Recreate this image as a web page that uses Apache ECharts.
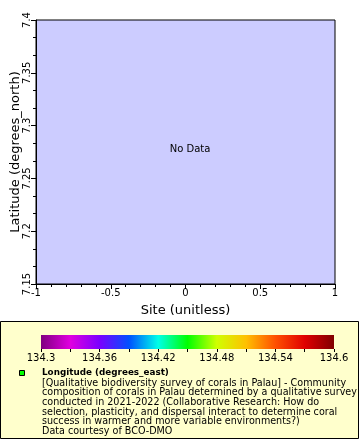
<!DOCTYPE html>
<html>
<head>
<meta charset="utf-8">
<script src="https://cdn.jsdelivr.net/npm/echarts@6/dist/echarts.min.js"></script>
<style>html,body{margin:0;padding:0;background:#fff;}#c{width:360px;height:440px;}</style>
</head>
<body>
<div id="c"></div>
<script>
// Data (no data points available in this dataset)
const siteValues = [];
const latitudeValues = [];
const longitudeValues = [];
const xRange = [-1, 1];
const yRange = [7.15, 7.4];
const colorRange = [134.3, 134.6];
const colorStops = ['#800080', '#e000e0', '#7a00ff', '#0050ff', '#00ffe8', '#00ff00', '#d0ff00', '#ffc000', '#ff5000', '#e00000', '#800000'];
const legendTitle = 'Longitude (degrees_east)';
const legendLines = [
  '[Qualitative biodiversity survey of corals in Palau] - Community',
  'composition of corals in Palau determined by a qualitative survey',
  'conducted in 2021-2022 (Collaborative Research: How do',
  'selection, plasticity, and dispersal interact to determine coral',
  'success in warmer and more variable environments?)',
  'Data courtesy of BCO-DMO'
];

const fmt = v => String(+(+v).toFixed(2));
const font = 'DejaVu Sans';
const chart = echarts.init(document.getElementById('c'), null, {renderer: 'canvas'});
const scatterData = siteValues.map((s, i) => [s, latitudeValues[i], longitudeValues[i]]);

chart.setOption({
  animation: false,
  backgroundColor: '#ffffff',
  grid: [
    {left: 36, top: 20, width: 299, height: 264, show: true, backgroundColor: '#ccccff', borderColor: '#000', borderWidth: 1, containLabel: false, outerBoundsMode: 'none'},
    {left: 41, top: 335, width: 293, height: 14, show: false, containLabel: false, outerBoundsMode: 'none'}
  ],
  xAxis: [
    {
      gridIndex: 0, type: 'value', min: xRange[0], max: xRange[1], interval: 0.5,
      name: 'Site (unitless)', nameLocation: 'middle', nameGap: 20, nameMoveOverlap: false,
      nameTextStyle: {fontFamily: font, fontSize: 13, color: '#000'},
      axisLine: {show: true, onZero: false, lineStyle: {color: '#000', width: 1}},
      axisTick: {show: true, length: 5, lineStyle: {color: '#000'}},
      minorTick: {show: true, splitNumber: 5, length: 3, lineStyle: {color: '#000'}},
      splitLine: {show: false},
      axisLabel: {fontFamily: font, fontSize: 10, color: '#000', margin: 4, formatter: fmt}
    },
    {
      gridIndex: 1, type: 'value', min: colorRange[0], max: colorRange[1], interval: 0.06,
      axisLine: {show: false},
      axisTick: {show: true, length: 3, lineStyle: {color: '#000'}},
      minorTick: {show: true, splitNumber: 2, length: 3, lineStyle: {color: '#000'}},
      splitLine: {show: false},
      axisLabel: {fontFamily: font, fontSize: 10, color: '#000', margin: 4, formatter: fmt}
    }
  ],
  yAxis: [
    {
      gridIndex: 0, type: 'value', min: yRange[0], max: yRange[1], interval: 0.05,
      name: 'Latitude (degrees_north)', nameLocation: 'middle', nameGap: 14, nameMoveOverlap: false,
      nameTextStyle: {fontFamily: font, fontSize: 13, color: '#000'},
      axisLine: {show: true, onZero: false, lineStyle: {color: '#000', width: 1}},
      axisTick: {show: true, length: 5, lineStyle: {color: '#000'}},
      minorTick: {show: true, splitNumber: 3, length: 3, lineStyle: {color: '#000'}},
      splitLine: {show: false},
      axisLabel: {fontFamily: font, fontSize: 10, color: '#000', margin: 4, rotate: 90, formatter: fmt}
    },
    {gridIndex: 1, type: 'value', min: 0, max: 1, show: false}
  ],
  series: [
    {
      type: 'scatter', xAxisIndex: 0, yAxisIndex: 0, data: scatterData, symbolSize: 5
    },
    {
      type: 'custom', xAxisIndex: 1, yAxisIndex: 1, silent: true,
      data: [[colorRange[0], colorRange[1]]],
      renderItem: function (params, api) {
        const p0 = api.coord([api.value(0), 0]);
        const p1 = api.coord([api.value(1), 1]);
        return {
          type: 'rect',
          shape: {x: p0[0], y: p1[1], width: p1[0] - p0[0], height: p0[1] - p1[1]},
          style: {
            fill: new echarts.graphic.LinearGradient(0, 0, 1, 0,
              colorStops.map((c, i) => ({offset: i / (colorStops.length - 1), color: c})))
          }
        };
      }
    }
  ],
  graphic: [
    {type: 'rect', z: -1, shape: {x: 0.5, y: 321.5, width: 358, height: 117}, style: {fill: '#ffffcc', stroke: '#000', lineWidth: 1}},
    {type: 'text', x: 190, y: 149, style: {text: 'No Data', fontFamily: font, fontSize: 10, fill: '#000', align: 'center', verticalAlign: 'middle'}},
    {type: 'rect', shape: {x: 19.5, y: 370.5, width: 5, height: 5}, style: {fill: '#00ff00', stroke: '#000', lineWidth: 1}},
    {type: 'text', x: 42, y: 373, style: {text: legendTitle, fontFamily: font, fontWeight: 'bold', fontSize: 8.8, fill: '#000', verticalAlign: 'middle'}},
    {type: 'text', x: 42, y: 378.5, style: {text: legendLines.join('\n'), fontFamily: font, fontSize: 9.6, lineHeight: 9.6, fill: '#000', verticalAlign: 'top'}}
  ]
});
</script>
</body>
</html>
